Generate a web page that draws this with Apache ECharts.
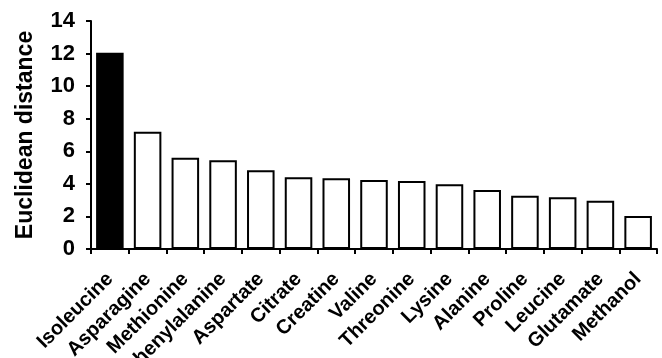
<!DOCTYPE html>
<html>
<head>
<meta charset="utf-8">
<script src="https://cdn.jsdelivr.net/npm/echarts@6/dist/echarts.min.js"></script>
<style>
  html, body { margin: 0; padding: 0; background: #fff; }
  #chart { width: 662px; height: 358px; }
</style>
</head>
<body>
<div id="chart"></div>
<script>
// Metabolites ranked by Euclidean distance
const categories = ['Isoleucine', 'Asparagine', 'Methionine', 'Phenylalanine', 'Aspartate',
  'Citrate', 'Creatine', 'Valine', 'Threonine', 'Lysine', 'Alanine', 'Proline',
  'Leucine', 'Glutamate', 'Methanol'];
const distances = [12.05, 7.2, 5.6, 5.45, 4.83, 4.4, 4.34, 4.24, 4.18, 3.97, 3.62, 3.27, 3.18, 2.97, 2.03];
// the leading metabolite is drawn filled
const highlighted = ['Isoleucine'];

const FONT = '"Liberation Sans", Arial, sans-serif';

const chart = echarts.init(document.getElementById('chart'), null, { renderer: 'canvas' });
chart.setOption({
  animation: false,
  backgroundColor: '#ffffff',
  grid: { left: 91, right: 5, top: 21, bottom: 109, containLabel: false, outerBoundsMode: 'none' },
  xAxis: {
    type: 'category',
    data: categories,
    boundaryGap: true,
    axisLine: { show: true, lineStyle: { color: '#000', width: 2 } },
    axisTick: { show: true, alignWithLabel: false, length: 5, lineStyle: { color: '#000', width: 2 } },
    axisLabel: {
      interval: 0,
      rotate: 45,
      margin: 27,
      color: '#000',
      fontFamily: FONT,
      fontWeight: 'bold',
      fontSize: 20
    },
    splitLine: { show: false }
  },
  yAxis: {
    type: 'value',
    min: 0,
    max: 14,
    interval: 2,
    name: 'Euclidean distance',
    nameLocation: 'middle',
    nameGap: 54,
    nameTextStyle: { color: '#000', fontFamily: FONT, fontWeight: 'bold', fontSize: 23 },
    axisLine: { show: true, lineStyle: { color: '#000', width: 2 } },
    axisTick: { show: true, length: 5, lineStyle: { color: '#000', width: 2 } },
    axisLabel: { color: '#000', fontFamily: FONT, fontWeight: 'bold', fontSize: 22, margin: 16 },
    splitLine: { show: false }
  },
  series: [{
    type: 'bar',
    data: distances.map((v, i) => ({
      value: v,
      itemStyle: {
        color: highlighted.includes(categories[i]) ? '#000' : '#fff',
        borderColor: '#000',
        borderWidth: 2
      }
    })),
    barCategoryGap: '27%'
  }]
});
</script>
</body>
</html>
